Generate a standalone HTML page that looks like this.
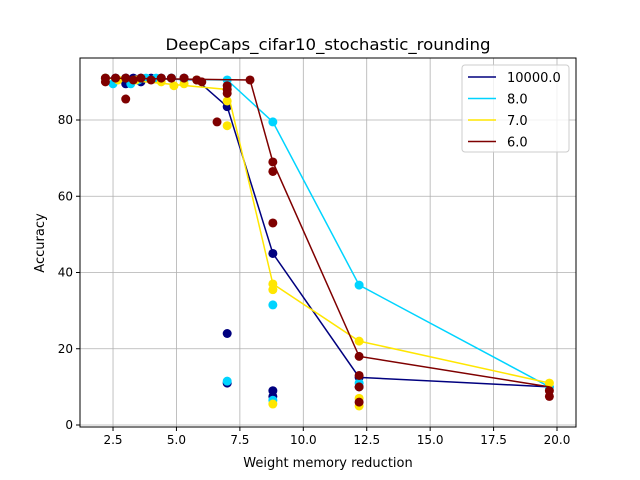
<!DOCTYPE html>
<html><head><meta charset="utf-8"><style>body{margin:0;background:#fff}svg{display:block;font-family:"DejaVu Sans","Liberation Sans",sans-serif}</style></head>
<body>
<svg id="chart" width="640" height="480"></svg>
<script>
const xTicks=[2.5,5.0,7.5,10.0,12.5,15.0,17.5,20.0];
const yTicks=[0,20,40,60,80];
const seriesNames=["10000.0","8.0","7.0","6.0"];
const seriesColors=["#00007f","#00d4ff","#ffe600","#7f0000"];
const lineBlueX=[2.2,3.6,5.8,7.0,8.8,12.2,19.7];
const lineBlueY=[91,91,90.5,83.5,45,12.5,10];
const lineCyanX=[2.2,7.0,8.8,12.2,19.7];
const lineCyanY=[91,90.5,79.5,36.7,10];
const lineYellowX=[2.2,7.0,8.8,12.2,19.7];
const lineYellowY=[91,88,37,22,11];
const lineBrownX=[2.2,7.9,8.8,12.2,19.7];
const lineBrownY=[91,90.5,69,18,10];
const ptBlueX=[2.2,2.6,3.0,3.0,3.3,3.6,3.6,4.0,4.4,4.8,5.3,5.8,7.0,7.0,7.0,8.8,8.8,8.8,12.2,12.2,19.7];
const ptBlueY=[91,91,89.5,91,91,91,90,91,91,91,91,90.5,83.5,24,11,45,9,7.5,12.5,10,10];
const ptCyanX=[2.2,2.5,3.2,3.5,3.8,4.2,4.8,5.3,7.0,7.0,8.8,8.8,8.8,12.2,12.2,19.7];
const ptCyanY=[91,89.5,89.5,90.5,91,91,91,90.5,90.5,11.5,79.5,31.5,6.5,36.7,11,10];
const ptYellowX=[2.2,2.7,3.4,4.4,4.9,5.3,5.8,7.0,7.0,7.0,8.8,8.8,8.8,12.2,12.2,12.2,19.7];
const ptYellowY=[91,90.5,90.5,90,89,89.5,90.5,88,85,78.5,37,35.5,5.5,22,7,5,11];
const ptBrownX=[2.2,2.2,2.6,3.0,3.0,3.3,3.6,4.0,4.4,4.8,5.3,5.8,6.0,6.6,7.0,7.0,7.0,7.9,8.8,8.8,8.8,12.2,12.2,12.2,12.2,19.7,19.7];
const ptBrownY=[91,90,91,85.5,91,90.5,91,90.5,91,91,91,90.5,90,79.5,89,88,87,90.5,69,66.5,53,18,13,10,6,9,7.5];
const X=v=>49.6+25.37*v, Y=a=>425-3.8125*a;
const svg=document.getElementById('chart');const NS="http://www.w3.org/2000/svg";
function mk(t,a,p){const e=document.createElementNS(NS,t);for(const k in a)e.setAttribute(k,a[k]);(p||svg).appendChild(e);return e;}
const L=80,R=576,T=58,B=427;
xTicks.forEach(v=>{const g=mk('line',{x1:X(v),x2:X(v),y1:T,y2:B,stroke:'#b0b0b0','stroke-width':0.8});


mk('line',{x1:X(v),x2:X(v),y1:B,y2:B+4,stroke:'#000'});
const t=mk('text',{x:X(v),y:B+17,'text-anchor':'middle','font-size':12});t.textContent=v.toFixed(1);

});
yTicks.forEach(v=>{const g=mk('line',{x1:L,x2:R,y1:Y(v),y2:Y(v),stroke:'#b0b0b0','stroke-width':0.8});


mk('line',{x1:L-4,x2:L,y1:Y(v),y2:Y(v),stroke:'#000'});
const t=mk('text',{x:L-7,y:Y(v)+4,'text-anchor':'end','font-size':12});t.textContent=v;

});
const lines=[[lineBlueX,lineBlueY],[lineCyanX,lineCyanY],[lineYellowX,lineYellowY],[lineBrownX,lineBrownY]];
const pts=[[ptBlueX,ptBlueY],[ptCyanX,ptCyanY],[ptYellowX,ptYellowY],[ptBrownX,ptBrownY]];
for(let s=0;s<4;s++){
const pl=mk('polyline',{points:lines[s][0].map((x,i)=>X(x)+','+Y(lines[s][1][i])).join(' '),fill:'none',stroke:seriesColors[s],'stroke-width':1.5});


pts[s][0].forEach((x,i)=>{const c=mk('circle',{cx:X(x),cy:Y(pts[s][1][i]),r:4.5,fill:seriesColors[s]});

});}
const fr=mk('rect',{x:L,y:T,width:R-L,height:B-T,fill:'none',stroke:'#000','stroke-width':1});


const tt=mk('text',{x:328,y:50,'text-anchor':'middle','font-size':16,textLength:325,lengthAdjust:'spacingAndGlyphs'});tt.textContent="DeepCaps_cifar10_stochastic_rounding";


const xt=mk('text',{x:328,y:467,'text-anchor':'middle','font-size':13});xt.textContent="Weight memory reduction";


const yt=mk('text',{x:44,y:243,'text-anchor':'middle','font-size':13,transform:'rotate(-90 44 243)'});yt.textContent="Accuracy";


const lg=mk('g',{});


mk('rect',{x:462,y:65,width:107,height:87,rx:3,fill:'#fff','fill-opacity':0.8,stroke:'#ccc'},lg);
seriesNames.forEach((n,i)=>{const y=77+i*21.5;
mk('line',{x1:468,x2:496,y1:y,y2:y,stroke:seriesColors[i],'stroke-width':1.5},lg);
const t=mk('text',{x:507,y:y+5,'font-size':13},lg);t.textContent=n;

});
</script>
</body></html>
